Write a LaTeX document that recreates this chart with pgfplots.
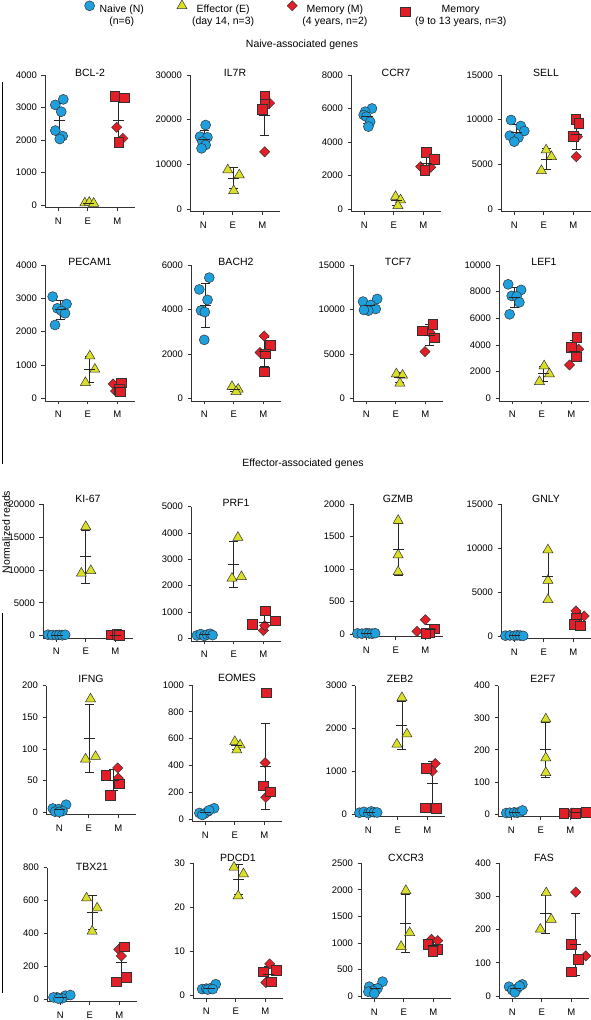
\documentclass[border=0pt]{standalone}
\usepackage{fontspec}
\setmainfont{Liberation Sans}
\usepackage{pgfplots}
\pgfplotsset{compat=1.18}
\definecolor{cN}{RGB}{30,160,222}
\definecolor{cE}{RGB}{218,224,40}
\definecolor{cM}{RGB}{228,30,38}
\pgfplotsset{
  gN/.style={only marks, mark=*, mark size=5pt, mark options={fill=cN, draw=black!80, line width=0.5pt}},
  gE/.style={only marks, mark=triangle*, mark size=5.8pt, mark options={fill=cE, draw=black!80, line width=0.5pt}},
  gMd/.style={only marks, mark=square*, mark size=3.6pt, mark options={fill=cM, draw=black!80, line width=0.5pt, rotate=45}},
  gMs/.style={only marks, mark=square*, mark size=4.8pt, mark options={fill=cM, draw=black!80, line width=0.5pt}},
  gErr/.style={only marks, mark=-, mark size=5.5pt, mark options={black!85, line width=0.8pt},
    error bars/.cd, y dir=both, y explicit,
    error bar style={black!85, line width=0.8pt},
    error mark options={rotate=90, black!85, line width=0.8pt, mark size=4.5pt}},
  legUp/.style={legend image code/.code={\draw[##1] plot coordinates {(0pt,6pt)};}},
  legMid/.style={legend image code/.code={\draw[##1] plot coordinates {(0pt,0pt)};}},
  panel/.style={
    scale only axis, width=90pt, xmin=-0.45, xmax=2.6, enlargelimits=false,
    axis x line*=bottom, axis y line*=left,
    axis line style={-, black!80, line width=0.7pt},
    every outer x axis line/.append style={-}, every outer y axis line/.append style={-},
    xtick={0,1,2}, xticklabels={N,E,M},
    tick align=outside, major tick length=3.5pt,
    tick style={black!80, line width=0.7pt},
    tick label style={font=\fontsize{9.5}{11}\selectfont},
    xticklabel style={yshift=-3pt},
    yticklabel style={xshift=-1pt},
    scaled y ticks=false,
    /pgf/number format/1000 sep={},
    /pgf/number format/assume math mode=true,
    title style={font=\fontsize{10.5}{12}\selectfont, at={(0.5,1)}, anchor=base},
    clip=false,
  }
}
\newcommand\panel[7]{%
  \pgfmathsetmacro\ph{#2-#3}%
  \pgfmathsetmacro\pH{1.02*\ph}%
  \pgfmathsetmacro\pB{1020-#2-0.02*\ph}%
  \pgfmathsetmacro\pT{#3-\rowbase}%
  \edef\pymin{\the\numexpr-20*#5\relax e-3}%
  \begin{axis}[panel, at={(#1pt,\pB pt)}, height=\pH pt, ymin=\pymin, ymax=#5, ytick={#6}, title={#4}, title style={yshift=-\pT pt}]
  #7
  \end{axis}}
\begin{document}
\begin{tikzpicture}
\useasboundingbox (0pt,0pt) rectangle (590pt,1020pt);

% legend
\begin{axis}[at={(296pt,1020pt)}, anchor=center, hide axis, scale only axis, width=1pt, height=1pt,
  xmin=0, xmax=1, ymin=0, ymax=1, legUp, legend columns=4, legend cell align=left,
  legend style={at={(0.5,0.5)}, anchor=north, draw=none, fill=none, inner sep=0pt, outer sep=0pt,
    font=\fontsize{10.5}{12.5}\selectfont, nodes={inner sep=1pt},
    /tikz/every odd column/.append style={column sep=4pt},
    /tikz/every even column/.append style={column sep=32pt}}]
\addlegendimage{gN}\addlegendentry{\begin{tabular}{@{}c@{}}Naive (N)\\(n=6)\end{tabular}}
\addlegendimage{gE}\addlegendentry{\begin{tabular}{@{}c@{}}Effector (E)\\(day 14, n=3)\end{tabular}}
\addlegendimage{gMd}\addlegendentry{\begin{tabular}{@{}c@{}}Memory (M)\\(4 years, n=2)\end{tabular}}
\addlegendimage{gMs,legMid}\addlegendentry{\begin{tabular}{@{}c@{}}Memory\\(9 to 13 years, n=3)\end{tabular}}
\end{axis}

\node[font=\fontsize{10.5}{12}\selectfont] at (302pt,975pt) {Naive-associated genes};
\node[font=\fontsize{10.5}{12}\selectfont] at (303pt,556pt) {Effector-associated genes};
\node[font=\fontsize{10.5}{12}\selectfont, rotate=90] at (6pt,488pt) {Normalized reads};
\draw[line width=1.2pt] (2.5pt,938pt) -- (2.5pt,556pt);
\draw[line width=1.2pt] (2.5pt,407pt) -- (2.5pt,27pt);

% ---------- Row 1
\def\rowbase{67}
\panel{45}{205}{75}{BCL-2}{4000}{0,1000,...,4000}{
\addplot[gN] coordinates {(0.17,3250)(-0.1,3080)(0.1,2870)(-0.1,2290)(0.15,2120)(0.05,2030)};
\addplot[gE] coordinates {(0.9,60)(1.05,80)(1.2,50)};
\addplot[gMd] coordinates {(1.98,2390)(2.19,2050)};
\addplot[gMs] coordinates {(1.92,3350)(2.24,3300)(2.05,1930)};
\addplot[gErr] coordinates {(0.05,2607)+-(0,525)(1.03,63)+-(0,15)(2.05,2605)+-(0,682)};
}
\panel{190}{209}{75}{IL7R}{30000}{0,10000,20000,30000}{
\addplot[gN] coordinates {(0.08,18800)(-0.11,16200)(0.14,16050)(-0.03,15080)(0.08,14330)(-0.06,13580)};
\addplot[gE] coordinates {(0.83,8730)(1.22,7610)(1.03,4100)};
\addplot[gMd] coordinates {(2.25,23700)(2.08,12800)};
\addplot[gMs] coordinates {(2.08,25300)(2.08,23600)(2.0,22300)};
\addplot[gErr] coordinates {(0.03,15670)+-(0,1830)(1.03,6900)+-(0,2400)(2.08,21000)+-(0,4550)};
}
\panel{351}{209}{75}{CCR7}{8000}{0,2000,...,8000}{
\addplot[gN] coordinates {(0.26,6000)(0.03,5810)(-0.02,5610)(0.07,5510)(0.2,5210)(0.14,4920)};
\addplot[gE] coordinates {(1.06,740)(1.23,540)(1.14,200)};
\addplot[gMd] coordinates {(1.91,2530)(2.25,2490)};
\addplot[gMs] coordinates {(2.11,3380)(2.38,2970)(2.05,2330)};
\addplot[gErr] coordinates {(0.1,5510)+-(0,390)(1.1,490)+-(0,270)(2.1,2740)+-(0,430)};
}
\panel{501}{209}{75}{SELL}{15000}{0,5000,10000,15000}{
\addplot[gN] coordinates {(-0.11,9960)(0.22,9290)(0.34,8730)(-0.15,8210)(0.14,7990)(0,7540)};
\addplot[gE] coordinates {(1.08,6600)(1.26,5860)(0.92,4290)};
\addplot[gMd] coordinates {(2.14,8100)(2.1,5860)};
\addplot[gMs] coordinates {(2.08,10040)(2.19,9590)(1.99,8170)};
\addplot[gErr] coordinates {(0.08,8620)+-(0,890)(1.08,5590)+-(0,1200)(2.1,8350)+-(0,1630)};
}
% ---------- Row 2
\def\rowbase{258.8}
\panel{45}{398.3}{265}{PECAM1}{4000}{0,1000,...,4000}{
\addplot[gN] coordinates {(-0.19,3050)(0.28,2830)(-0.03,2700)(0.11,2620)(0.23,2550)(-0.11,2200)};
\addplot[gE] coordinates {(1.07,1270)(1.24,870)(0.92,470)};
\addplot[gMd] coordinates {(1.86,430)(1.94,220)};
\addplot[gMs] coordinates {(2.14,470)(2.06,280)(2.11,200)};
\addplot[gErr] coordinates {(0.08,2660)+-(0,280)(1.05,870)+-(0,400)(2.05,320)+-(0,120)};
}
\panel{191}{398.3}{265}{BACH2}{6000}{0,2000,4000,6000}{
\addplot[gN] coordinates {(0.17,5430)(-0.17,4900)(0.11,4430)(-0.11,3950)(0.02,3880)(0.0,2630)};
\addplot[gE] coordinates {(0.94,525)(1.15,405)(1.08,300)};
\addplot[gMd] coordinates {(2.03,2800)(1.89,2060)};
\addplot[gMs] coordinates {(2.23,2400)(2.06,2000)(2.03,1200)};
\addplot[gErr] coordinates {(0.04,4200)+-(0,990)(1.04,420)+-(0,95)(2.05,2090)+-(0,640)};
}
\panel{353}{398.3}{265}{TCF7}{15000}{0,5000,10000,15000}{
\addplot[gN] coordinates {(-0.11,10880)(0.37,11180)(0.15,10500)(0.32,10050)(0.07,9860)(-0.08,9940)};
\addplot[gE] coordinates {(1.02,2740)(1.23,2590)(1.14,1690)};
\addplot[gMd] coordinates {(2.16,7400)(1.99,5250)};
\addplot[gMs] coordinates {(2.25,8360)(1.89,7610)(2.31,6830)};
\addplot[gErr] coordinates {(0.12,10400)+-(0,540)(1.12,2340)+-(0,570)(2.14,7090)+-(0,1170)};
}
\panel{499}{398.3}{265}{LEF1}{10000}{0,2000,...,10000}{
\addplot[gN] coordinates {(-0.14,8550)(0.3,8130)(-0.02,7680)(0.15,7650)(0.24,7200)(-0.09,6300)};
\addplot[gE] coordinates {(1.08,2430)(1.26,1830)(0.92,1250)};
\addplot[gMd] coordinates {(2.25,3680)(1.94,2500)};
\addplot[gMs] coordinates {(2.19,4580)(1.99,3830)(2.17,3130)};
\addplot[gErr] coordinates {(0.06,7580)+-(0,750)(1.06,1840)+-(0,590)(2.1,3540)+-(0,780)};
}
% ---------- Row 3
\def\rowbase{500.5}
\panel{43}{635.7}{504.3}{KI-67}{20000}{0,5000,...,20000}{
\addplot[gN] coordinates {(-0.28,150)(-0.14,100)(0.0,80)(0.1,120)(0.2,60)(0.3,140)};
\addplot[gE] coordinates {(1,16600)(0.85,9500)(1.17,9900)};
\addplot[gMd] coordinates {(1.95,100)(2.1,50)};
\addplot[gMs] coordinates {(1.86,150)(2.05,200)(2.14,80)};
\addplot[gErr] coordinates {(0.05,110)+-(0,40)(1,12000)+-(0,3990)(2,116)+-(0,60)};
}
\panel{191}{638.3}{506.7}{PRF1}{5000}{0,1000,...,5000}{
\addplot[gN] coordinates {(-0.25,110)(-0.12,160)(0.0,90)(0.1,140)(0.2,170)(0.28,120)};
\addplot[gE] coordinates {(1.14,3830)(0.94,2280)(1.26,2340)};
\addplot[gMd] coordinates {(2.0,300)(2.05,480)};
\addplot[gMs] coordinates {(2.06,1040)(2.4,660)(1.62,530)};
\addplot[gErr] coordinates {(0,130)+-(0,30)(1.0,2820)+-(0,880)(2.03,600)+-(0,290)};
}
\panel{353}{634}{504.3}{GZMB}{2000}{0,500,...,2000}{
\addplot[gN] coordinates {(-0.3,10)(-0.15,5)(0,15)(0.1,8)(0.2,5)(0.3,12)};
\addplot[gE] coordinates {(1.08,1750)(1.08,1220)(1.08,960)};
\addplot[gMd] coordinates {(2.0,220)(1.72,40)};
\addplot[gMs] coordinates {(2.3,80)(2.15,20)(2.02,15)};
\addplot[gErr] coordinates {(0,9)+-(0,4)(1.08,1310)+-(0,400)(2.17,75)+-(0,80)};
}
\panel{501}{636}{504.3}{GNLY}{15000}{0,5000,10000,15000}{
\addplot[gN] coordinates {(-0.3,40)(-0.15,60)(0,30)(0.1,80)(0.2,50)(0.3,20)};
\addplot[gE] coordinates {(1.14,9800)(1.14,6330)(1.14,4130)};
\addplot[gMd] coordinates {(2.09,2850)(2.37,2270)};
\addplot[gMs] coordinates {(2.11,2000)(2.03,1310)(2.23,1160)};
\addplot[gErr] coordinates {(0,50)+-(0,20)(1.14,6750)+-(0,2860)(2.1,1920)+-(0,720)};
}
% ---------- Row 4
\def\rowbase{682.8}
\panel{46}{812.3}{685.7}{IFNG}{200}{0,50,...,200}{
\addplot[gN] coordinates {(-0.22,6)(0.23,12)(-0.02,5)(0.11,2)(-0.14,1)(0.0,0.5)};
\addplot[gE] coordinates {(1.06,179)(0.89,84)(1.23,88)};
\addplot[gMd] coordinates {(1.98,70)(2.0,54)};
\addplot[gMs] coordinates {(1.58,59)(2.03,45)(1.72,27)};
\addplot[gErr] coordinates {(0,4.4)+-(0,4.3)(1.03,117)+-(0,54)(1.85,51)+-(0,16)};
}
\panel{192}{819}{685}{EOMES}{1000}{0,200,...,1000}{
\addplot[gN] coordinates {(-0.2,45)(0.3,80)(0.08,55)(-0.03,40)(-0.1,30)(0.13,65)};
\addplot[gE] coordinates {(1.0,577)(1.18,552)(1.07,515)};
\addplot[gMd] coordinates {(2.03,420)(2.05,162)};
\addplot[gMs] coordinates {(2.06,943)(1.97,249)(2.2,204)};
\addplot[gErr] coordinates {(0.02,52)+-(0,18)(1.05,548)+-(0,31)(2.05,396)+-(0,321)};
}
\panel{355}{814}{685.7}{ZEB2}{3000}{0,1000,2000,3000}{
\addplot[gN] coordinates {(-0.3,30)(-0.15,50)(0,20)(0.1,60)(0.2,40)(0.3,35)};
\addplot[gE] coordinates {(1.14,2720)(1.31,1870)(0.97,1630)};
\addplot[gMd] coordinates {(2.27,1180)(2.17,1000)};
\addplot[gMs] coordinates {(1.97,1070)(1.94,150)(2.3,130)};
\addplot[gErr] coordinates {(0.05,40)+-(0,15)(1.14,2070)+-(0,570)(2.17,710)+-(0,520)};
}
\panel{498}{814}{685.7}{E2F7}{400}{0,100,...,400}{
\addplot[gN] coordinates {(-0.17,3)(-0.05,4)(0.1,5)(0.2,4)(0.3,6)(0.38,11)};
\addplot[gE] coordinates {(1.17,296)(1.17,175)(1.17,129)};
\addplot[gMd] coordinates {(2.03,3)(2.1,3)};
\addplot[gMs] coordinates {(1.78,3)(2.18,3)(2.55,6)};
\addplot[gErr] coordinates {(0.1,5)+-(0,3)(1.17,200)+-(0,86)(2.18,4)+-(0,1.5)};
}
% ---------- Row 5
\def\rowbase{858.8}
\panel{47}{999}{867.7}{TBX21}{800}{0,200,...,800}{
\addplot[gN] coordinates {(-0.11,10)(0.17,20)(0.34,24)(0.06,4)(-0.23,10)(-0.06,2)};
\addplot[gE] coordinates {(0.89,615)(1.25,554)(1.08,413)};
\addplot[gMd] coordinates {(1.98,302)(2.07,262)};
\addplot[gMs] coordinates {(2.17,318)(1.9,105)(2.24,131)};
\addplot[gErr] coordinates {(0,11)+-(0,9)(1.08,527)+-(0,102)(2.07,224)+-(0,99)};
}
\panel{193}{995.7}{863.3}{PDCD1}{30}{0,10,20,30}{
\addplot[gN] coordinates {(-0.14,1.5)(0.0,1.6)(0.15,1.7)(0.32,2.6)(0.05,1.4)(0.22,1.5)};
\addplot[gE] coordinates {(0.94,29.1)(1.26,27.6)(1.08,22.6)};
\addplot[gMd] coordinates {(2.15,7.2)(2.02,3.0)};
\addplot[gMs] coordinates {(1.94,5.4)(2.37,5.8)(2.2,3.2)};
\addplot[gErr] coordinates {(0.1,1.7)+-(0,0.45)(1.08,26.4)+-(0,3.4)(2.1,4.9)+-(0,1.7)};
}
\panel{361}{996}{863.3}{CXCR3}{2500}{0,500,...,2500}{
\addplot[gN] coordinates {(0.28,270)(-0.17,176)(0.11,144)(-0.06,100)(-0.2,81)(0.0,50)};
\addplot[gE] coordinates {(1.07,1985)(1.2,1193)(0.91,930)};
\addplot[gMd] coordinates {(1.94,1068)(2.15,1043)};
\addplot[gMs] coordinates {(1.81,980)(2.15,880)(1.98,848)};
\addplot[gErr] coordinates {(0.05,137)+-(0,79)(1.07,1370)+-(0,540)(2.0,960)+-(0,95)};
}
\panel{499}{996}{863.3}{FAS}{400}{0,100,...,400}{
\addplot[gN] coordinates {(0.34,35)(-0.11,28)(0.17,23)(0.0,18)(0.09,11)(0.25,30)};
\addplot[gE] coordinates {(1.15,311)(1.32,231)(0.95,201)};
\addplot[gMd] coordinates {(2.15,313)(2.49,121)};
\addplot[gMs] coordinates {(2.0,156)(2.23,111)(2.0,73)};
\addplot[gErr] coordinates {(0.1,24)+-(0,9)(1.12,248)+-(0,58)(2.15,155)+-(0,93)};
}
\end{tikzpicture}
\end{document}
